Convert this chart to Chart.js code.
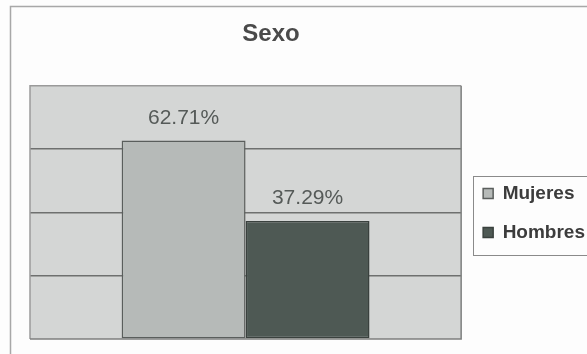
<!DOCTYPE html>
<html>
<head>
<meta charset="utf-8">
<script src="https://cdn.jsdelivr.net/npm/chart.js@4.4.0/dist/chart.umd.min.js"></script>
<style>
  html, body { margin: 0; padding: 0; background: #fdfdfd; overflow: hidden; }
  #wrap { position: relative; width: 587px; height: 354px; overflow: hidden; }
  canvas { position: absolute; left: 0; top: 0; }
</style>
</head>
<body>
<div id="wrap"><canvas id="chart" width="620" height="354"></canvas></div>
<script>
const categories = ['Sexo'];
const seriesNames = ['Mujeres', 'Hombres'];
const mujeres = [62.71];
const hombres = [37.29];
const yTicks = [0, 20, 40, 60, 80];

const FONT = '"Liberation Sans", Arial, sans-serif';

// frame around the whole figure, plot background and legend box
const frame = {
    id: 'frame',
    afterLayout(chart) {
        // centre the title over the figure frame, and drop the legend beside the plot
        const t = chart.titleBlock;
        t.left = 10;
        t.right = 532;
        const lg = chart.legend;
        lg.left = chart.chartArea.right + 2;
        lg.right = chart.width;
        lg.width = lg.right - lg.left;
        lg.top = 164;
        lg.bottom = 264;
        lg.height = lg.bottom - lg.top;
    },
    beforeDraw(chart) {
        const ctx = chart.ctx;
        const a = chart.chartArea;
        ctx.save();
        ctx.fillStyle = '#fdfdfd';
        ctx.fillRect(0, 0, chart.width, chart.height);
        ctx.strokeStyle = '#a8a8a8';
        ctx.lineWidth = 1.5;
        ctx.strokeRect(10.5, 6.5, chart.width + 20, chart.height + 20);
        ctx.fillStyle = '#d4d6d5';
        ctx.fillRect(a.left, a.top, a.right - a.left, a.bottom - a.top);
        ctx.restore();
    },
    afterDraw(chart) {
        const ctx = chart.ctx;
        const a = chart.chartArea;
        ctx.save();
        // plot border: light top/left, darker right/bottom
        ctx.lineWidth = 1.5;
        ctx.strokeStyle = '#9a9a9a';
        ctx.beginPath();
        ctx.moveTo(a.left, a.bottom);
        ctx.lineTo(a.left, a.top);
        ctx.lineTo(a.right, a.top);
        ctx.stroke();
        ctx.strokeStyle = '#7d7f7e';
        ctx.beginPath();
        ctx.moveTo(a.right, a.top);
        ctx.lineTo(a.right, a.bottom);
        ctx.lineTo(a.left, a.bottom);
        ctx.stroke();
        // legend border
        ctx.strokeStyle = '#8a8a8a';
        ctx.lineWidth = 1;
        ctx.strokeRect(473.5, 176.5, 140, 79);
        ctx.restore();
    }
};

// value labels above the bars
const valueLabels = {
    id: 'valueLabels',
    afterDatasetsDraw(chart) {
        const ctx = chart.ctx;
        ctx.save();
        ctx.font = '21px ' + FONT;
        ctx.fillStyle = '#555a58';
        ctx.textAlign = 'center';
        ctx.textBaseline = 'alphabetic';
        chart.data.datasets.forEach((ds, i) => {
            chart.getDatasetMeta(i).data.forEach((bar, j) => {
                ctx.fillText(ds.data[j].toFixed(2) + '%', bar.x, bar.y - 17);
            });
        });
        ctx.restore();
    }
};

new Chart(document.getElementById('chart'), {
    type: 'bar',
    data: {
        labels: categories,
        datasets: [
            {
                label: seriesNames[0],
                data: mujeres,
                backgroundColor: '#b6bab8',
                borderColor: '#5a5e5c',
                borderWidth: 1.5,
                borderSkipped: false
            },
            {
                label: seriesNames[1],
                data: hombres,
                backgroundColor: '#4e5954',
                borderColor: '#3a413e',
                borderWidth: 1.5,
                borderSkipped: false
            }
        ]
    },
    options: {
        responsive: false,
        animation: false,
        layout: { padding: { left: 30, right: 27, top: 8, bottom: 15 } },
        datasets: { bar: { categoryPercentage: 0.575, barPercentage: 1.0 } },
        scales: {
            x: { display: false },
            y: {
                min: yTicks[0],
                max: yTicks[yTicks.length - 1],
                afterBuildTicks: (axis) => { axis.ticks = yTicks.map(v => ({ value: v })); },
                ticks: { display: false },
                border: { display: false },
                grid: {
                    drawTicks: false,
                    color: (c) => (c.tick.value === 0 || c.tick.value === 80) ? 'rgba(0,0,0,0)' : '#6e706f',
                    lineWidth: 1.5
                }
            }
        },
        plugins: {
            title: {
                display: true,
                text: 'Sexo',
                color: '#4a4a4a',
                font: { family: FONT, size: 24, weight: 'bold' },
                padding: { top: 12, bottom: 37 }
            },
            legend: {
                position: 'right',
                align: 'start',
                labels: {
                    color: '#3c3c3c',
                    font: { family: FONT, size: 19, weight: 'bold' },
                    boxWidth: 10,
                    boxHeight: 10,
                    padding: 20
                }
            },
            tooltip: { enabled: false }
        }
    },
    plugins: [frame, valueLabels]
});
</script>
</body>
</html>
